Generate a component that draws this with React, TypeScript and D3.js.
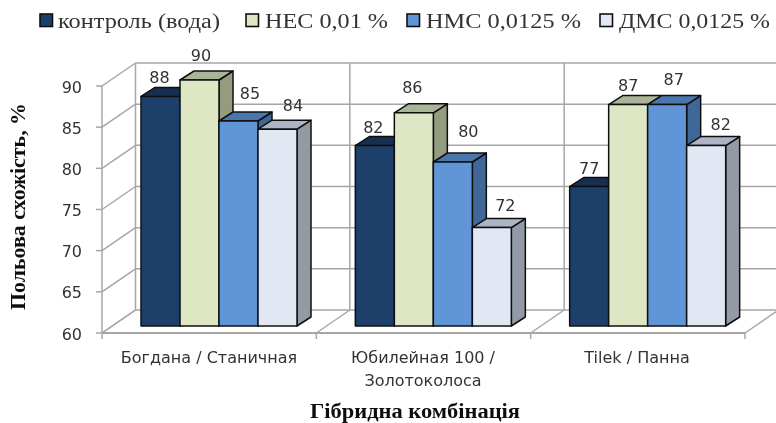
import React from "react";
import * as d3 from "d3";

const categories = ["Богдана / Станичная", "Юбилейная 100 /\nЗолотоколоса", "Tilek / Панна"];
const seriesNames = ["контроль (вода)", "НЕС 0,01 %", "НМС 0,0125 %", "ДМС 0,0125 %"];
const control = [88, 82, 77];
const nes = [90, 86, 87];
const nms = [85, 80, 87];
const dms = [84, 72, 82];
const yTicks = [60, 65, 70, 75, 80, 85, 90];

const seriesValues = [control, nes, nms, dms];
const fronts = ["#1F3F6B", "#DDE7C4", "#6096D8", "#E1E8F4"];
const tops = ["#172F50", "#AAB598", "#4A76AC", "#ABB5C4"];
const sides = ["#162D4D", "#949C80", "#3F6796", "#949AA5"];
const legendMarkX = [40, 246, 407, 600];
const legendTextX = [58, 265, 426, 619];
const legendTextW = [162, 123, 155, 151];
const labelOffsets = [
  [[-1, -19], [1.5, -25], [11.5, -28], [15.5, -24]],
  [[-1.5, -19], [-1.5, -26], [15.5, -31], [13.5, -23]],
  [[0, -19], [0, -20], [6.5, -26], [14.5, -22]],
];
const catLabelX = [209, 423, 637];

const GRID = "#A6A6A6";
const TXT = "#333333";
const SANS = "'DejaVu Sans', Verdana, sans-serif";
const SERIF = "'Liberation Serif', 'Times New Roman', serif";
const DX = 33.5;
const DY = -23;
const BDX = 14;
const BDY = -9;

export default function App() {
  const y = d3.scaleLinear().domain([60, 90]).range([333, 86]);
  const yBar = d3.scaleLinear().domain([60, 90]).range([326, 80]);
  const x = d3.scaleBand<number>().domain(categories.map((_, i) => i)).range([102, 745]);
  const groupEdges = [...categories.map((_, i) => x(i)!), 745];
  const inner = d3.scaleBand<number>().domain(seriesNames.map((_, i) => i)).range([39, 195]);
  const w = inner.bandwidth();
  const line = d3.line();

  return (
    <svg width={776} height={423} style={{ position: "absolute", left: 0, top: 0, background: "#fff" }}>
      <defs>
        <filter id="soft" x="0" y="0" width="100%" height="100%">
          <feGaussianBlur stdDeviation="0.35" />
        </filter>
      </defs>
      <g filter="url(#soft)">
        <rect x={0} y={0} width={776} height={423} fill="#fff" />
        {/* legend */}
        {seriesNames.map((s, i) => (
          <g key={s}>
            <rect x={legendMarkX[i]} y={14} width={12.5} height={12.5} fill={fronts[i]} stroke="#111" strokeWidth={1.6} />
            <text x={legendTextX[i]} y={27.5} fontFamily={SERIF} fontSize={20} fill={TXT}
              textLength={legendTextW[i]} lengthAdjust="spacingAndGlyphs">{s}</text>
          </g>
        ))}

        {/* walls and gridlines */}
        <g fill="none" stroke={GRID} strokeWidth={1.5}>
          {yTicks.map((t) => (
            <g key={t}>
              <path d={line([[102, y(t)], [102 + DX, y(t) + DY]])!} />
              <path d={line([[102 + DX, y(t) + DY], [776, y(t) + DY]])!} />
              <path d={line([[96, y(t)], [102, y(t)]])!} />
            </g>
          ))}
          <path d={line([[102, y(60)], [102, y(90)]])!} />
          {groupEdges.map((e) => (
            <g key={e}>
              <path d={line([[e, y(60)], [e + DX, y(60) + DY]])!} />
              <path d={line([[e, y(60)], [e, y(60) + 6]])!} />
              <path d={line([[e + DX, y(60) + DY], [e + DX, y(90) + DY]])!} />
            </g>
          ))}
          <path d={line([[102, y(60)], [745, y(60)]])!} strokeWidth={2} />
        </g>

        {/* y tick labels */}
        {yTicks.map((t) => (
          <text key={t} x={82} y={y(t) + 6.5} textAnchor="end" fontFamily={SANS} fontSize={16} fill={TXT}>{t}</text>
        ))}

        {/* bars */}
        {categories.map((_, c) => (
          <g key={c}>
            {seriesValues.map((vals, s) => {
              const x0 = x(c)! + inner(s)!;
              const x1 = x0 + w;
              const yt = yBar(vals[c]);
              const yb = yBar(60);
              return (
                <g key={s} stroke="#111" strokeWidth={1.5} strokeLinejoin="round">
                  <path fill={sides[s]} d={line([[x1, yt], [x1 + BDX, yt + BDY], [x1 + BDX, yb + BDY], [x1, yb]])! + "Z"} />
                  <path fill={tops[s]} d={line([[x0, yt], [x0 + BDX, yt + BDY], [x1 + BDX, yt + BDY], [x1, yt]])! + "Z"} />
                  <rect x={x0} y={yt} width={w} height={yb - yt} fill={fronts[s]} />
                </g>
              );
            })}
          </g>
        ))}

        {/* data labels */}
        {categories.map((_, c) =>
          seriesValues.map((vals, s) => (
            <text key={`${c}-${s}`}
              x={x(c)! + inner(s)! + w / 2 + labelOffsets[c][s][0]}
              y={yBar(vals[c]) + labelOffsets[c][s][1] + 6}
              textAnchor="middle" fontFamily={SANS} fontSize={16} fill={TXT}>{vals[c]}</text>
          ))
        )}

        {/* category labels */}
        {categories.map((cat, c) =>
          cat.split("\n").map((ln, l) => (
            <text key={ln} x={catLabelX[c]} y={363 + l * 22.5} textAnchor="middle" fontFamily={SANS} fontSize={16} fill={TXT}>{ln}</text>
          ))
        )}

        {/* axis titles */}
        <text transform="translate(25,206.5) rotate(-90)" textAnchor="middle" fontFamily={SERIF} fontWeight="bold" fontSize={21} fill="#111"
          textLength={207} lengthAdjust="spacingAndGlyphs">Польова схожість, %</text>
        <text x={415} y={418} textAnchor="middle" fontFamily={SERIF} fontWeight="bold" fontSize={20} fill="#111"
          textLength={210} lengthAdjust="spacingAndGlyphs">Гібридна комбінація</text>
      </g>
    </svg>
  );
}
